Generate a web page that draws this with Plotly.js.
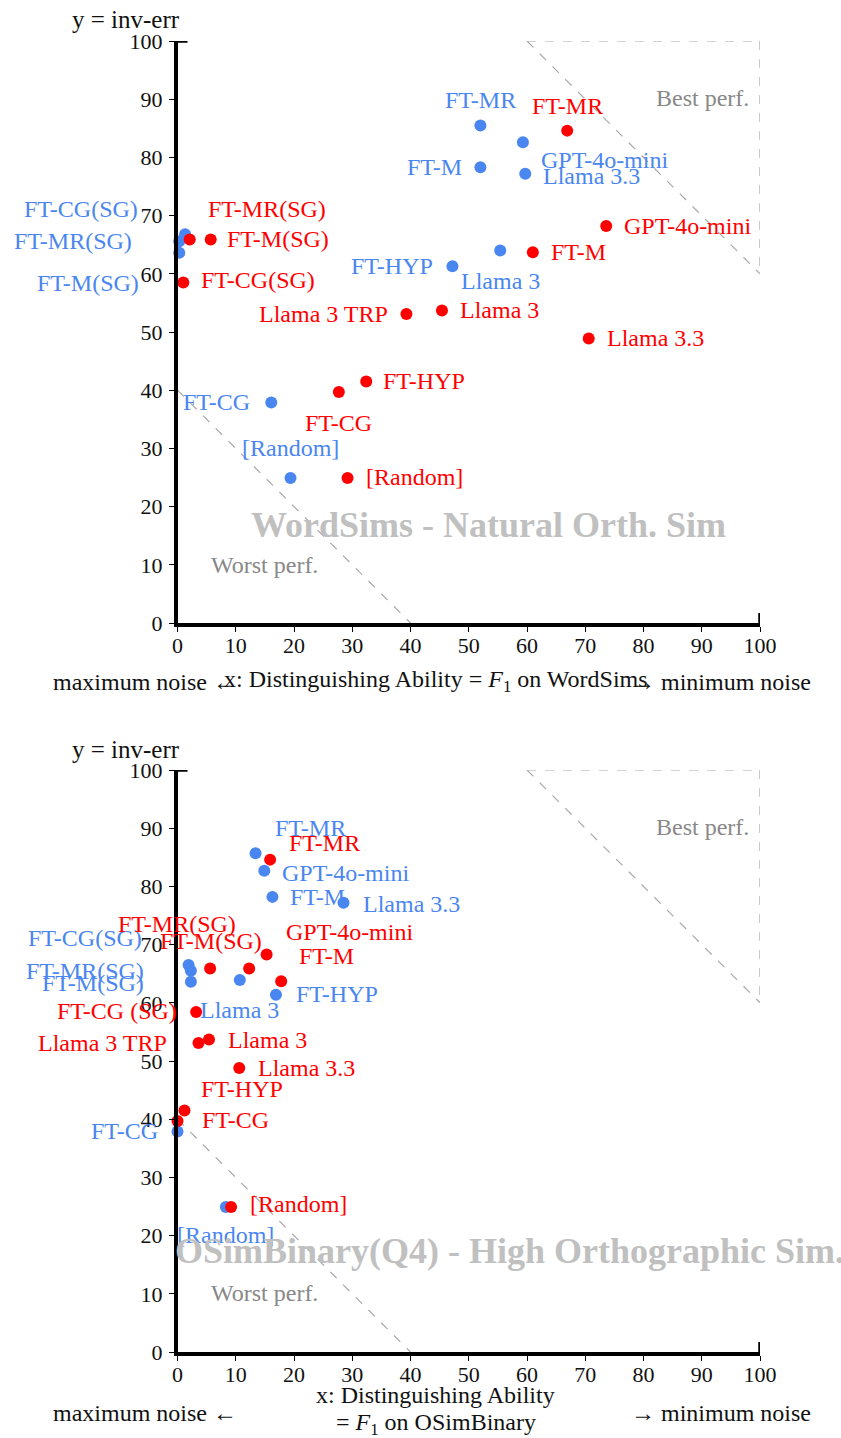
<!DOCTYPE html>
<html>
<head>
<meta charset="utf-8">
<script src="https://cdn.plot.ly/plotly-3.0.1.min.js"></script>
<style>html,body{margin:0;padding:0;background:#fff;}#chart{width:841px;height:1438px;}</style>
</head>
<body>
<div id="chart"></div>
<script>
// ---------------- DATA ----------------
// Top panel: WordSims
const topBlueNames = ["FT-MR","GPT-4o-mini","FT-M","Llama 3.3","Llama 3","FT-HYP","FT-CG(SG)","FT-MR(SG)","FT-M(SG)","FT-CG","[Random]"];
const topBlueX = [52.0, 59.3, 52.0, 59.7, 55.4, 47.2, 1.3, 0.3, 0.3, 16.1, 19.4];
const topBlueY = [85.5, 82.6, 78.3, 77.2, 64.0, 61.3, 66.8, 65.6, 63.6, 37.9, 24.9];

const topRedNames = ["FT-MR","GPT-4o-mini","FT-M","Llama 3","Llama 3 TRP","Llama 3.3","FT-HYP","FT-CG","[Random]","FT-MR(SG)","FT-M(SG)","FT-CG(SG)"];
const topRedX = [66.9, 73.6, 61.0, 45.4, 39.3, 70.6, 32.4, 27.7, 29.2, 2.1, 5.7, 1.0];
const topRedY = [84.6, 68.2, 63.7, 53.7, 53.1, 48.9, 41.5, 39.7, 24.9, 65.9, 65.9, 58.5];

// Bottom panel: OSimBinary(Q4)
const botBlueNames = ["FT-MR","GPT-4o-mini","FT-M","Llama 3.3","FT-CG(SG)","FT-MR(SG)","FT-M(SG)","Llama 3","FT-HYP","FT-CG","[Random]"];
const botBlueX = [13.4, 14.9, 16.3, 28.5, 1.9, 2.3, 2.3, 10.7, 16.9, 0.0, 8.3];
const botBlueY = [85.7, 82.7, 78.2, 77.2, 66.5, 65.5, 63.6, 63.9, 61.4, 37.9, 24.9];

const botRedNames = ["FT-MR","GPT-4o-mini","FT-M","FT-M(SG)","FT-MR(SG)","FT-CG (SG)","Llama 3 TRP","Llama 3","Llama 3.3","FT-HYP","FT-CG","[Random]"];
const botRedX = [15.9, 15.3, 17.8, 5.6, 12.3, 3.2, 3.6, 5.4, 10.6, 1.2, 0.0, 9.2];
const botRedY = [84.6, 68.3, 63.7, 65.9, 65.9, 58.4, 53.1, 53.7, 48.8, 41.5, 39.7, 24.9];

const xTicks = [0,10,20,30,40,50,60,70,80,90,100];
const yTicks = [0,10,20,30,40,50,60,70,80,90,100];

// ---------------- STYLE / LABEL PLACEMENT (pixels) ----------------
// [xanchor, xshift, yshift]
const topBluePlace = [["center",0,25],["left",16,-18],["right",-16,0],["left",16,-2],["center",0,-30],["right",-17,0],["right",-45,25],["right",-45,0],["right",-38,-30],["right",-19,0],["center",0,30]];
const topRedPlace  = [["center",0,25],["left",16,0],["left",16,0],["left",16,0],["right",-16,0],["left",16,0],["left",15,0],["center",0,-31],["left",16,1],["left",16,30],["left",14,0],["left",16,3]];
const botBluePlace = [["left",17,25],["left",16,-2],["left",16,0],["left",17,-1],["right",-45,27],["right",-45,0],["right",-45,-1],["center",0,-30],["left",18,1],["right",-18,0],["center",0,-28]];
const botRedPlace  = [["left",17,17],["left",17,22],["left",16,25],["center",1,27],["right",-11,44],["right",-17,1],["right",-29,0],["left",17,-1],["left",17,0],["left",15,21],["left",22,1],["left",17,3]];

const BLUE = "#4a86f0";
const RED = "#ff0000";
const FONT = "Liberation Serif";
const LBL = 24;
const W = 841, H = 1438;
const px = v => v / W;
const py = v => 1 - v / H;

function scatter(x, y, color, xa, ya) {
  return {type:"scatter", mode:"markers", x:x, y:y, xaxis:xa, yaxis:ya, cliponaxis:false,
    marker:{size:12, color:color}, hoverinfo:"skip", showlegend:false};
}
function labels(names, x, y, place, color, xa, ya) {
  return names.map((n,i)=>({text:n, x:x[i], y:y[i], xref:xa, yref:ya, showarrow:false,
    xanchor:place[i][0], yanchor:"middle", xshift:place[i][1], yshift:place[i][2],
    font:{family:FONT, size:LBL, color:color}}));
}

const data = [
  scatter(topBlueX, topBlueY, BLUE, "x", "y"),
  scatter(topRedX, topRedY, RED, "x", "y"),
  scatter(botBlueX, botBlueY, BLUE, "x2", "y2"),
  scatter(botRedX, botRedY, RED, "x2", "y2")
];

const xDom = [px(177.5), px(760)];
const axisCommon = {range:[0,100], showline:true, linewidth:3.5, linecolor:"#000", mirror:false,
  ticks:"outside", ticklen:5, tickwidth:1, tickcolor:"#000", tickvals:xTicks, ticktext:xTicks.map(String),
  showgrid:false, zeroline:false, fixedrange:true,
  tickfont:{family:FONT, size:22, color:"#111"}};

const layout = {
  width:W, height:H, margin:{l:0,r:0,t:0,b:0}, paper_bgcolor:"#fff", plot_bgcolor:"rgba(0,0,0,0)",
  showlegend:false,
  font:{family:FONT},
  xaxis: Object.assign({}, axisCommon, {domain:xDom, anchor:"y", ticklabelstandoff:-5}),
  yaxis: Object.assign({}, axisCommon, {domain:[py(623), py(41)], anchor:"x", tickvals:yTicks, ticktext:yTicks.map(String), ticklabelstandoff:2}),
  xaxis2: Object.assign({}, axisCommon, {domain:xDom, anchor:"y2", ticklabelstandoff:-5}),
  yaxis2: Object.assign({}, axisCommon, {domain:[py(1352), py(770)], anchor:"x2", tickvals:yTicks, ticktext:yTicks.map(String), ticklabelstandoff:2}),
  shapes: [],
  annotations: []
};

// Guide shapes per panel
[["x","y"],["x2","y2"]].forEach(([xa,ya])=>{
  const dash = {color:"#a8a8a8", width:1.2, dash:"dash"};
  layout.shapes.push(
    {type:"line", xref:xa, yref:ya, x0:60, y0:100, x1:100, y1:100, line:dash, layer:"below"},
    {type:"line", xref:xa, yref:ya, x0:100, y0:100, x1:100, y1:60, line:dash, layer:"below"},
    {type:"line", xref:xa, yref:ya, x0:60, y0:100, x1:100, y1:60, line:dash, layer:"below"},
    {type:"line", xref:xa, yref:ya, x0:0, y0:40, x1:40, y1:0, line:dash, layer:"below"},
    // axis end caps
    {type:"line", xref:xa, yref:ya, xsizemode:"pixel", xanchor:0, x0:-10, x1:10, y0:100, y1:100, line:{color:"#000", width:3.5}},
    {type:"line", xref:xa, yref:ya, ysizemode:"pixel", yanchor:0, y0:-10, y1:10, x0:100, x1:100, line:{color:"#000", width:3.5}}
  );
});

const A = layout.annotations;
A.push(...labels(topBlueNames, topBlueX, topBlueY, topBluePlace, BLUE, "x", "y"));
A.push(...labels(topRedNames, topRedX, topRedY, topRedPlace, RED, "x", "y"));
A.push(...labels(botBlueNames, botBlueX, botBlueY, botBluePlace, BLUE, "x2", "y2"));
A.push(...labels(botRedNames, botRedX, botRedY, botRedPlace, RED, "x2", "y2"));

function txt(t, x, y, xanchor, size, color, bold) {
  return {text: bold ? "<b>"+t+"</b>" : t, x:px(x), y:py(y), xref:"paper", yref:"paper", showarrow:false,
    xanchor:xanchor, yanchor:"middle", font:{family:FONT, size:size, color:color}};
}
// Panel texts
A.push(
  txt("y = inv-err", 70, 19, "left", 25, "#111"),
  txt("Best perf.", 751, 98, "right", 24, "#888"),
  txt("Worst perf.", 209, 565, "left", 24, "#888"),
  txt("WordSims - Natural Orth. Sim", 488, 525, "center", 36, "#c0c0c0", true),
  txt("maximum noise ←", 51, 682, "left", 24, "#111"),
  txt("x: Distinguishing Ability = <i>F</i><sub>1</sub> on WordSims", 436, 681, "center", 24, "#111"),
  txt("→ minimum noise", 813, 682, "right", 24, "#111"),

  txt("y = inv-err", 70, 749, "left", 25, "#111"),
  txt("Best perf.", 751, 827, "right", 24, "#888"),
  txt("Worst perf.", 209, 1293, "left", 24, "#888"),
  txt("OSimBinary(Q4) - High Orthographic Sim.", 509, 1251, "center", 36, "#c0c0c0", true),
  txt("maximum noise ←", 51, 1413, "left", 24, "#111"),
  txt("x: Distinguishing Ability", 436, 1395, "center", 24, "#111"),
  txt("= <i>F</i><sub>1</sub> on OSimBinary", 436, 1424, "center", 24, "#111"),
  txt("→ minimum noise", 813, 1413, "right", 24, "#111")
);

Plotly.newPlot("chart", data, layout, {staticPlot:true, displayModeBar:false});
</script>
</body>
</html>
